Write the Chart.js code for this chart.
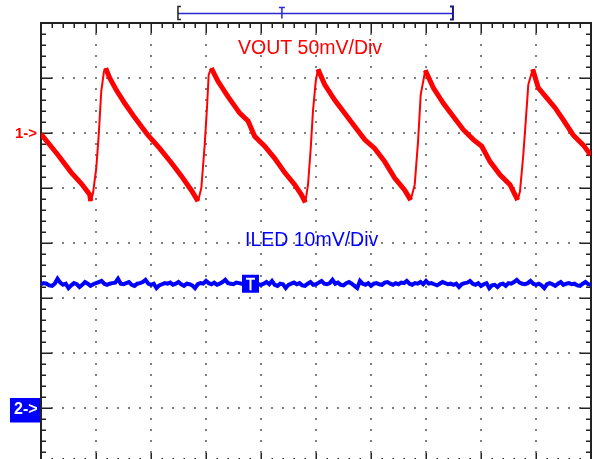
<!DOCTYPE html>
<html>
<head>
<meta charset="utf-8">
<script src="https://cdn.jsdelivr.net/npm/chart.js@4.4.1/dist/chart.umd.min.js"></script>
<style>
  html, body { margin: 0; padding: 0; background: #fff; overflow: hidden; }
  canvas { display: block; }
</style>
</head>
<body>
<canvas id="scope" width="598" height="470"></canvas>
<script>
// Pantalla del osciloscopio: 10 div horizontales x 8 div verticales
// Tiempo en divisiones, tensiones en mV

// Canal 1 - VOUT (50 mV/div, referencia "1->" en +2 div)
const voutTime = [0.0, 0.309, 0.551, 0.733, 0.885, 0.904, 0.945, 1.005, 1.049, 1.096, 1.145, 1.176,
  1.249, 1.369, 1.522, 1.704, 1.945, 2.158, 2.369, 2.551, 2.733, 2.855, 2.915, 2.976, 3.018, 3.049, 3.096,
  3.218, 3.4, 3.613, 3.764, 3.885, 4.067, 4.249, 4.431, 4.613, 4.733, 4.805, 4.855, 4.904, 4.945, 4.995, 5.036,
  5.158, 5.34, 5.522, 5.704, 5.885, 6.067, 6.249, 6.431, 6.613, 6.722, 6.795, 6.855, 6.904, 6.987,
  7.133, 7.315, 7.496, 7.678, 7.86, 8.013, 8.164, 8.345, 8.527, 8.667, 8.709, 8.769, 8.818, 8.86, 8.94,
  9.042, 9.195, 9.345, 9.496, 9.678, 9.86, 9.995];
const voutMv = [-1, -20, -36, -46, -56, -62, -55, -32, -2, 38, 56, 59,
  50, 39, 27, 14, -2, -14, -27, -39, -52, -62, -50, -11, 23, 53, 59,
  47, 33, 18, 11, -3, -12, -23, -36, -47, -56, -63, -47, -14, 20, 47, 58,
  44, 30, 18, 6, -6, -14, -26, -41, -52, -61, -47, -8, 35, 57,
  41, 27, 15, 3, -6, -12, -26, -38, -47, -61, -53, -20, 14, 44, 58,
  41, 32, 23, 12, -2, -11, -20];

// Canal 2 - ILED (10 mV/div, referencia "2->" en -3 div), una muestra cada 0.05 div
const iledStep = 0.05;
const iledMv = [
  22.5, 22.7, 22.6, 22.3, 22.2, 22.6, 23.5, 22.8, 22.4, 22.6,
  21.8, 22.3, 22.7, 22.5, 22.0, 22.4, 22.9, 22.6, 22.2, 22.5,
  22.7, 22.9, 23.1, 22.6, 22.4, 22.6, 22.7, 22.8, 23.5, 22.6,
  22.5, 22.7, 22.9, 22.4, 22.2, 22.6, 22.7, 22.9, 23.3, 22.6,
  22.4, 22.6, 21.8, 22.3, 22.5, 22.7, 22.6, 22.8, 22.4, 22.6,
  22.9, 22.5, 22.2, 22.6, 22.5, 22.3, 21.8, 22.5, 22.7, 22.6,
  23.1, 22.7, 22.5, 22.8, 22.4, 22.6, 22.9, 23.3, 22.7, 22.6,
  22.5, 22.8, 22.7, 22.6, 22.6, 22.7, 22.5, 22.4, 22.7, 22.5,
  22.4, 22.6, 22.9, 22.5, 23.1, 22.4, 22.2, 22.6, 22.5, 21.8,
  22.4, 22.6, 22.8, 22.5, 22.7, 22.3, 22.2, 22.6, 22.9, 22.4,
  22.5, 22.8, 23.1, 22.6, 22.5, 22.7, 23.3, 22.6, 22.8, 22.4,
  22.3, 22.7, 22.9, 22.6, 22.2, 21.8, 23.1, 22.6, 22.4, 22.7,
  22.2, 22.6, 22.7, 22.5, 22.4, 22.8, 22.9, 22.6, 22.4, 22.7,
  22.5, 22.8, 22.7, 23.1, 22.6, 22.4, 22.7, 22.6, 22.9, 22.5,
  23.1, 22.6, 22.7, 22.5, 22.3, 22.6, 22.9, 22.7, 22.5, 22.6,
  22.4, 22.6, 22.0, 22.5, 22.7, 22.8, 23.1, 22.6, 22.4, 22.7,
  22.2, 22.5, 22.7, 21.8, 22.3, 22.4, 22.0, 22.5, 22.6, 22.2,
  22.7, 22.6, 22.9, 23.3, 22.8, 22.6, 22.5, 22.7, 23.1, 22.6,
  22.4, 22.6, 22.3, 21.8, 22.5, 22.7, 22.5, 22.2, 22.6, 22.9,
  22.4, 22.6, 22.7, 22.5, 22.6, 22.3, 22.2, 22.6, 22.9, 22.5,
  22.4];

const ch1 = { offset: 2, voltsDiv: 50 };
const ch2 = { offset: -3, voltsDiv: 10 };
const triggerPos = 3.8;          // marcador T sobre la traza
const triggerLevel = 22.5;       // mV
const recordView = [2.49, 4.38, 7.49];  // barra superior: inicio, T, fin

const voutPoints = voutTime.map((t, i) => ({ x: t, y: ch1.offset + voutMv[i] / ch1.voltsDiv }));
const iledPoints = iledMv.map((v, i) => ({ x: i * iledStep, y: ch2.offset + v / ch2.voltsDiv }));

const FONT = "'Liberation Sans', Arial, sans-serif";

const scopeScreen = {
  id: 'scopeScreen',
  beforeDatasetsDraw(chart) {
    const { ctx, chartArea: a, scales: { x, y } } = chart;
    ctx.save();
    // puntos de la reticula
    ctx.fillStyle = '#808080';
    for (let d = 1; d < 10; d++) {
      const px = Math.round(x.getPixelForValue(d));
      for (let m = 1; m < 40; m++) {
        const py = Math.round(y.getPixelForValue(-4 + m * 0.2));
        ctx.fillRect(px - 1, py - 1, 2, 2);
      }
    }
    for (let d = -3; d <= 3; d++) {
      const py = Math.round(y.getPixelForValue(d));
      for (let m = 1; m < 50; m++) {
        const px = Math.round(x.getPixelForValue(m * 0.2));
        ctx.fillRect(px - 1, py - 1, 2, 2);
      }
    }
    // marco
    ctx.strokeStyle = '#222';
    ctx.lineWidth = 2;
    ctx.strokeRect(a.left, a.top, a.right - a.left, a.bottom - a.top);
    // marcas del marco
    ctx.lineWidth = 1.5;
    ctx.beginPath();
    for (let m = 1; m < 50; m++) {
      const px = Math.round(x.getPixelForValue(m * 0.2)) + 0.25;
      const len = m % 5 === 0 ? 10 : 5;
      ctx.moveTo(px, a.top); ctx.lineTo(px, a.top + len);
      ctx.moveTo(px, a.bottom); ctx.lineTo(px, a.bottom - len);
    }
    for (let m = 1; m < 40; m++) {
      const py = Math.round(y.getPixelForValue(-4 + m * 0.2)) + 0.25;
      const len = m % 5 === 0 ? 11 : 5;
      ctx.moveTo(a.left, py); ctx.lineTo(a.left + len, py);
      ctx.moveTo(a.right, py); ctx.lineTo(a.right - len, py);
    }
    ctx.stroke();

    // barra superior del registro
    const by = a.top - 9.5;
    const bx0 = x.getPixelForValue(recordView[0]);
    const bxT = x.getPixelForValue(recordView[1]);
    const bx1 = x.getPixelForValue(recordView[2]);
    ctx.strokeStyle = '#2a2ad0';
    ctx.lineWidth = 1.5;
    ctx.beginPath();
    ctx.moveTo(bx0, by); ctx.lineTo(bx1, by);
    ctx.moveTo(bxT, by - 6); ctx.lineTo(bxT, by + 5);
    ctx.moveTo(bxT - 3, by - 6); ctx.lineTo(bxT + 3, by - 6);
    ctx.stroke();
    ctx.strokeStyle = '#222';
    ctx.beginPath();
    ctx.moveTo(bx0 + 3, by - 7); ctx.lineTo(bx0, by - 7); ctx.lineTo(bx0, by + 6); ctx.lineTo(bx0 + 3, by + 6);
    ctx.stroke();
    ctx.strokeStyle = '#1a1a80';
    ctx.lineWidth = 2;
    ctx.beginPath();
    ctx.moveTo(bx1 - 3, by - 7); ctx.lineTo(bx1, by - 7); ctx.lineTo(bx1, by + 6); ctx.lineTo(bx1 - 3, by + 6);
    ctx.stroke();
    ctx.restore();
  },
  afterDatasetsDraw(chart) {
    const { ctx, chartArea: a, scales: { x, y } } = chart;
    ctx.save();
    ctx.textBaseline = 'alphabetic';
    ctx.font = '19.5px ' + FONT;
    ctx.fillStyle = '#ff0000';
    ctx.textAlign = 'left';
    ctx.fillText('VOUT 50mV/Div', x.getPixelForValue(3.582), y.getPixelForValue(3.43));
    ctx.fillStyle = '#0000ff';
    ctx.fillText('ILED 10mV/Div', x.getPixelForValue(3.709), y.getPixelForValue(-0.055));

    // referencia canal 1
    const r1 = y.getPixelForValue(ch1.offset);
    ctx.font = 'bold 15px ' + FONT;
    ctx.fillStyle = '#ff0000';
    ctx.textAlign = 'right';
    ctx.fillText('1->', a.left - 4, r1 + 5);

    // referencia canal 2
    const r2 = y.getPixelForValue(ch2.offset);
    ctx.fillStyle = '#0000ff';
    ctx.fillRect(a.left - 31, r2 - 10, 30, 24.5);
    ctx.fillStyle = '#ffffff';
    ctx.textAlign = 'left';
    ctx.font = 'bold 16px ' + FONT;
    ctx.fillText('2->', a.left - 27, r2 + 6);

    // marcador de disparo
    const tx = x.getPixelForValue(triggerPos);
    const ty = y.getPixelForValue(ch2.offset + triggerLevel / ch2.voltsDiv);
    ctx.fillStyle = '#0000ff';
    ctx.fillRect(tx - 8, ty - 9.5, 17, 18);
    ctx.strokeStyle = '#ffffff';
    ctx.lineWidth = 2;
    ctx.beginPath();
    ctx.moveTo(tx - 4, ty - 5.5); ctx.lineTo(tx + 5, ty - 5.5);
    ctx.moveTo(tx + 0.5, ty - 5.5); ctx.lineTo(tx + 0.5, ty + 6);
    ctx.stroke();
    ctx.restore();
  }
};

new Chart(document.getElementById('scope'), {
  type: 'line',
  data: {
    datasets: [
      {
        label: 'VOUT',
        data: voutPoints,
        borderColor: '#ff0000',
        borderWidth: 2,
        pointRadius: 0,
        tension: 0,
        segment: {
          borderWidth: c => (c.p1.parsed.y < c.p0.parsed.y ? 5 : 2)
        }
      },
      {
        label: 'ILED',
        data: iledPoints,
        borderColor: '#0000ff',
        borderWidth: 4,
        pointRadius: 0,
        tension: 0
      }
    ]
  },
  options: {
    responsive: false,
    animation: false,
    layout: { padding: { left: 41, top: 23, right: 7, bottom: 7 } },
    scales: {
      x: { type: 'linear', min: 0, max: 10, display: false },
      y: { type: 'linear', min: -4, max: 4, display: false }
    },
    plugins: {
      legend: { display: false },
      tooltip: { enabled: false }
    }
  },
  plugins: [scopeScreen]
});
</script>
</body>
</html>
